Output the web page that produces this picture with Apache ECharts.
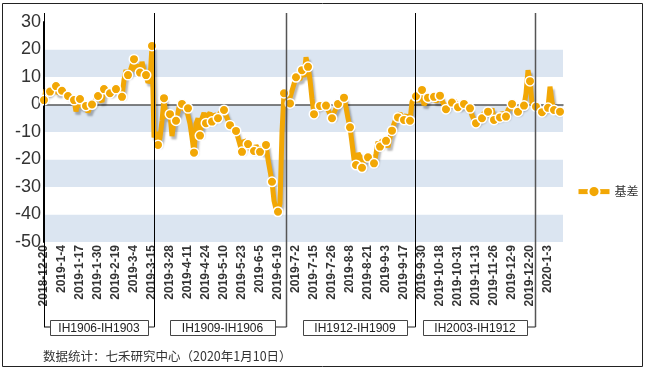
<!DOCTYPE html>
<html>
<head>
<meta charset="utf-8">
<script src="https://cdn.jsdelivr.net/npm/echarts@6/dist/echarts.min.js"></script>
<style>
html,body{margin:0;padding:0;background:#fff;}
#chart{width:648px;height:372px;}
</style>
</head>
<body>
<div id="chart"></div>
<script>
// x-axis tick labels, one every 9 trading days starting at trading day 0
const tickLabels = ['2018-12-20','2019-1-4','2019-1-17','2019-1-30','2019-2-19','2019-3-4','2019-3-15','2019-3-28','2019-4-11','2019-4-24','2019-5-10','2019-5-23','2019-6-5','2019-6-19','2019-7-2','2019-7-15','2019-7-26','2019-8-8','2019-8-21','2019-9-3','2019-9-17','2019-9-30','2019-10-18','2019-10-31','2019-11-13','2019-11-26','2019-12-9','2019-12-20','2020-1-3'];
const seriesName = '基差';
// [trading-day index, basis]
const basisPoints = [[0,1.6],[1,5.5],[2,4],[3,4.7],[6,6.7],[7,4],[9,5.0],[12,3.1],[15,1.6],[16,-2.5],[17,1],[18,2.0],[19,-1],[21,-0.5],[22,-2.8],[23,-1],[24,0],[25,1],[27,3.1],[29,1],[30,5.6],[33,4.1],[36,5.6],[39,2.8],[40,9],[41,12.5],[42,10.7],[43,12],[45,16.5],[46,12],[47,14.5],[48,11.6],[49,15.5],[50,12],[51,10.7],[52,8],[53,9],[54,21.3],[55,-12],[56,-10],[57,-14.7],[58,-12],[59,-6],[60,2.3],[61,-5],[62,-2],[63,-3.5],[64,-11.5],[65,-6],[66,-5.9],[67,-3],[68,1],[69,0.2],[70,-2],[71,-1],[72,-1.4],[73,-7],[74,-12],[75,-17.5],[76,-7],[77,-5],[78,-11.3],[79,-5],[80,-3],[81,-6.8],[82,-4],[83,-3],[84,-6.2],[85,-3.5],[86,-4],[87,-5.0],[88,-3],[89,-2.5],[90,-2.0],[91,-4],[93,-7.5],[96,-9.6],[97,-12],[99,-17.2],[100,-13],[102,-14.4],[103,-16],[105,-16.9],[106,-15],[108,-17.2],[109,-15.5],[110,-18],[111,-14.7],[112,-20],[114,-28.1],[115,-35],[116,-38],[117,-39],[118,-36],[119,-10],[120,4.1],[121,2],[122,0],[123,0.4],[124,5],[126,9.9],[127,10.5],[128,9],[129,12.5],[130,10],[131,17.2],[132,13.7],[133,9],[134,2],[135,-3.5],[136,-1],[138,-0.5],[139,0.5],[141,-0.4],[142,-2],[144,-5.0],[145,-3],[147,0.2],[148,1],[150,2.5],[151,-1],[152,-5],[153,-8.3],[154,-14],[155,-20],[156,-22],[157,-17.7],[158,-19],[159,-23],[160,-20],[162,-19.2],[163,-20],[165,-21.4],[166,-18],[167,-13.5],[168,-15.3],[169,-13],[171,-13.2],[172,-15.5],[173,-12],[174,-9.5],[175,-7],[176,-5],[177,-4.7],[178,-3.2],[179,-5],[180,-5.6],[181,-4],[183,-5.9],[184,1],[185,2],[186,3.0],[187,1],[189,5.3],[190,-0.2],[192,2.5],[195,2.8],[196,1],[198,3.2],[199,1.5],[201,-1.7],[202,0],[204,0.7],[205,1.5],[207,-1.0],[208,-0.5],[210,0.2],[211,-1],[213,-1.4],[214,-4],[216,-6.8],[217,-5.5],[219,-5.0],[220,-3],[222,-2.6],[223,-4],[224,-1.4],[225,-5.6],[226,-4],[228,-4.7],[229,-3],[231,-4.4],[232,-2],[234,0.2],[235,-2],[237,-2.6],[238,-1],[240,-0.4],[241,4],[242,12.5],[243,8.5],[244,0.5],[246,-0.8],[247,-1],[249,-2.8],[250,-1.5],[252,-1.2],[253,6.5],[254,1],[255,-2.0],[256,-2],[258,-2.6]];
// contract roll-over boundaries (trading-day index) and contract spread names
const rollDays = [0, 55, 121, 185.25, 245.5];
const contractLabels = ['IH1906-IH1903','IH1909-IH1906','IH1912-IH1909','IH2003-IH1912'];
const footnote = '数据统计：七禾研究中心（2020年1月10日）';

const chart = echarts.init(document.getElementById('chart'), null, {renderer:'canvas'});
const ORANGE = '#F2A705';
const axisFont = "'Liberation Sans', Arial, sans-serif";

chart.setOption({
  animation: false,
  backgroundColor: '#fff',
  grid: {left: 44, top: 22, width: 519, height: 220, containLabel: false},
  legend: {
    data: [seriesName], orient: 'vertical', left: 571, top: 180,
    itemWidth: 31, itemHeight: 14, itemGap: 4,
    lineStyle: {width: 5, color: ORANGE},
    textStyle: {fontSize: 12, color: '#333', fontFamily: "'Noto Sans CJK SC', sans-serif"}
  },
  xAxis: [{
    type: 'value', min: 0, max: 259.5, interval: 9, position: 'bottom',
    axisLine: {show: false, onZero: false}, axisTick: {show: false}, splitLine: {show: false},
    axisLabel: {
      rotate: 90, margin: 3, fontSize: 12, fontWeight: 'bold', color: '#333', fontFamily: axisFont,
      showMaxLabel: false,
      formatter: v => (v % 9 === 0 && tickLabels[v / 9] !== undefined) ? tickLabels[v / 9] : ''
    }
  }, {
    type: 'value', min: 0, max: 259.5, position: 'top',
    axisLine: {show: true, onZero: true, lineStyle: {color: '#5a5a5a', width: 1.5}},
    axisTick: {show: false}, axisLabel: {show: false}, splitLine: {show: false}
  }],
  yAxis: {
    type: 'value', min: -50, max: 30, interval: 10,
    axisLine: {show: true, lineStyle: {color: '#000', width: 2}},
    axisTick: {show: false},
    axisLabel: {fontSize: 18, color: '#333', margin: 3, fontFamily: "'Liberation Sans Narrow', 'Liberation Sans', Arial, sans-serif"},
    splitLine: {show: false},
    splitArea: {show: true, areaStyle: {color: ['#DBE5F1', '#FFFFFF']}}
  },
  series: [{
    name: seriesName, type: 'line', xAxisIndex: 0, data: basisPoints,
    showSymbol: true, showAllSymbol: true, symbol: 'circle',
    symbolSize: v => (v[0] % 3 === 0 ? 9.5 : 0),
    lineStyle: {color: ORANGE, width: 5, shadowColor: 'rgba(0,0,0,0.28)', shadowOffsetX: 2, shadowOffsetY: 3, shadowBlur: 2},
    itemStyle: {color: ORANGE, borderColor: '#fff', borderWidth: 1.5},
    z: 3
  }]
});

// annotation brackets and contract boxes, positioned from the axis scale
const px = d => chart.convertToPixel({xAxisIndex: 0}, d);
const sx = rollDays.map(px);
const topY = 13, brY = 327, boxTop = 320, boxH = 15;
const boxes = [
  {l: sx[0] + 6, r: sx[1] - 6},
  {l: sx[2] - 116, r: sx[2] - 11},
  {l: sx[3] - 111.5, r: sx[3] - 7.5},
  {l: sx[4] - 112, r: sx[4] - 8}
];
const sepColors = ['#000', '#000', '#555', '#000', '#555'];
const g = [];
sx.forEach((x, i) => {
  g.push({type: 'line', z: 10, shape: {x1: Math.round(x) + 0.5, y1: topY, x2: Math.round(x) + 0.5, y2: brY},
    style: {stroke: sepColors[i], lineWidth: i % 2 === 0 && i > 0 ? 1.5 : 1}});
});
g.push({type: 'line', z: 10, shape: {x1: sx[0], y1: brY, x2: boxes[0].l, y2: brY}, style: {stroke: '#000', lineWidth: 1}});
boxes.forEach((b, i) => {
  const sepX = sx[i + 1];
  g.push({type: 'line', z: 10, shape: {x1: b.r, y1: brY, x2: Math.round(sepX) + 0.5, y2: brY}, style: {stroke: '#222', lineWidth: 1}});
  g.push({type: 'rect', z: 11, shape: {x: Math.round(b.l) + 0.5, y: boxTop + 0.5, width: Math.round(b.r - b.l), height: boxH},
    style: {fill: '#fff', stroke: '#444', lineWidth: 1}});
  g.push({type: 'text', z: 12, x: (b.l + b.r) / 2, y: boxTop + boxH / 2 + 1,
    style: {text: contractLabels[i], fontSize: 12, fill: '#222', align: 'center', verticalAlign: 'middle', fontFamily: axisFont}});
});
g.push({type: 'text', z: 12, x: 43, y: 356, style: {text: footnote, fontSize: 12.5, fill: '#333', verticalAlign: 'middle', fontFamily: "'Noto Sans CJK SC', sans-serif"}});
g.push({type: 'rect', z: 0, shape: {x: 2.5, y: 3.5, width: 640, height: 363}, style: {fill: 'none', stroke: '#222', lineWidth: 1}});
chart.setOption({graphic: g});
</script>
</body>
</html>
